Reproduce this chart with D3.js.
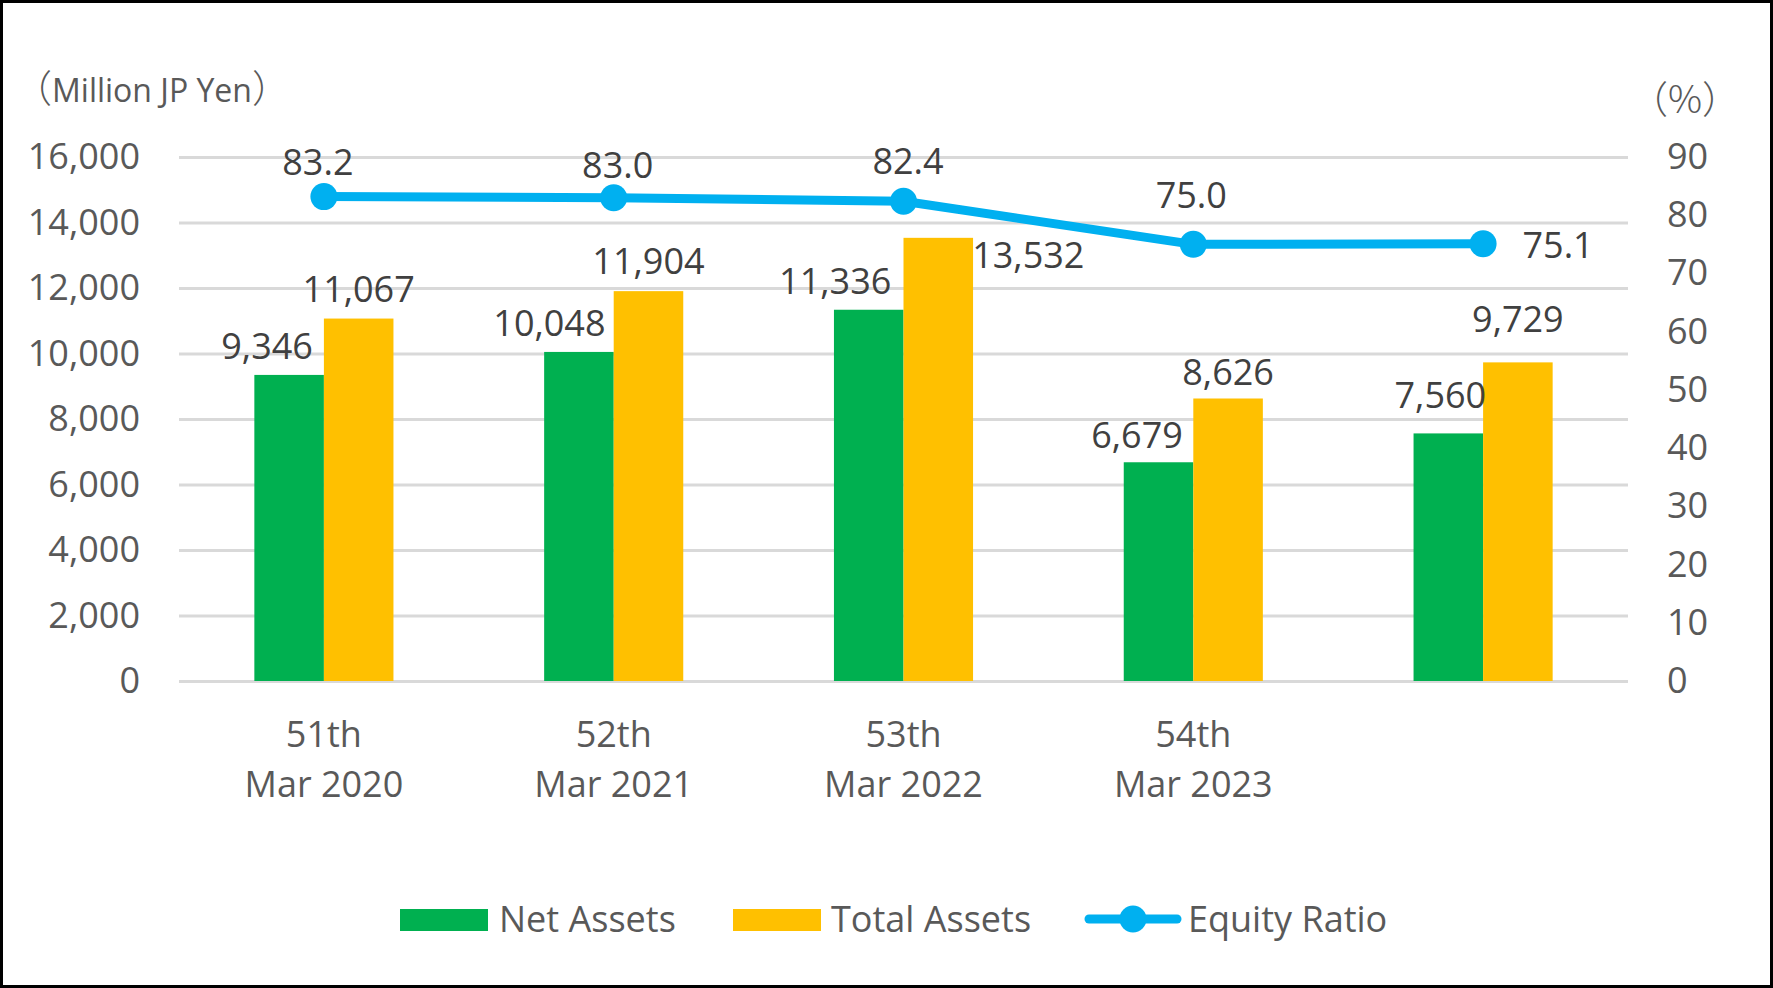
<!DOCTYPE html>
<html>
<head>
<meta charset="utf-8">
<script src="https://cdn.jsdelivr.net/npm/d3@7"></script>
<style>
  html, body { margin: 0; padding: 0; background: #fff; }
  svg { display: block; }
</style>
</head>
<body>
<svg id="chart" width="1773" height="988" font-family="Open Sans, Noto Sans CJK JP, sans-serif"></svg>
<script>
// ---------- data ----------
const periods = ["51th", "52th", "53th", "54th", ""];
const dates = ["Mar 2020", "Mar 2021", "Mar 2022", "Mar 2023", ""];
const netAssets = [9346, 10048, 11336, 6679, 7560];
const totalAssets = [11067, 11904, 13532, 8626, 9729];
const equityRatio = [83.2, 83.0, 82.4, 75.0, 75.1];
const leftTicks = [0, 2000, 4000, 6000, 8000, 10000, 12000, 14000, 16000];
const rightTicks = [0, 10, 20, 30, 40, 50, 60, 70, 80, 90];
const seriesNames = ["Net Assets", "Total Assets", "Equity Ratio"];

// ---------- label nudges (layout only) ----------
const naNudge = [[-22, 1], [-29.5, 1], [-33.5, 1], [-21.5, 3], [-8, -8]];
const taNudge = [[0, 0], [0, 0], [90, 47], [0, 3.5], [0, -13]];
const erNudge = [[-6, 0], [4, 2], [4.5, -5], [-2, -14], [75, 36]];

// ---------- layout ----------
const W = 1773, H = 988;
const plotL = 179, plotR = 1628, plotT = 157, plotB = 681;
const colors = { na: "#00B050", ta: "#FFC000", er: "#00B0F0" };
const grid = "#D9D9D9", axisText = "#595959", labelText = "#404040";
const fs = 36;
const latin = "Open Sans", cjk = "Noto Sans CJK JP";

const svg = d3.select("#chart");

svg.append("rect").attr("x", 0).attr("y", 0).attr("width", W).attr("height", H).attr("fill", "#fff");

const idx = d3.range(periods.length);
const x0 = d3.scaleBand().domain(idx).range([plotL, plotR]).paddingInner(0).paddingOuter(0);
const bw = x0.bandwidth() * 0.24;
const x1 = d3.scaleBand().domain(["na", "ta"])
  .range([x0.bandwidth() / 2 - bw, x0.bandwidth() / 2 + bw]);
const yL = d3.scaleLinear().domain([0, 16000]).range([plotB, plotT]);
const yR = d3.scaleLinear().domain([0, 90]).range([plotB, plotT]);

// left axis with gridlines
const gL = svg.append("g").attr("transform", `translate(${plotL},0)`)
  .call(d3.axisLeft(yL).tickValues(leftTicks).tickFormat(d3.format(","))
    .tickSizeInner(-(plotR - plotL)).tickSizeOuter(0).tickPadding(39));
gL.select(".domain").remove();
gL.selectAll(".tick line").attr("stroke", grid).attr("stroke-width", 3);
gL.selectAll(".tick text").attr("fill", axisText).attr("font-size", fs)
  .attr("font-family", latin);

// right axis
const gR = svg.append("g").attr("transform", `translate(${plotR},0)`)
  .call(d3.axisRight(yR).tickValues(rightTicks).tickSize(0).tickPadding(39));
gR.select(".domain").remove();
gR.selectAll(".tick text").attr("fill", axisText).attr("font-size", fs)
  .attr("font-family", latin);

// category axis
const gX = svg.append("g").attr("transform", `translate(0,${plotB})`)
  .call(d3.axisBottom(x0).tickSize(0).tickFormat(""));
gX.select(".domain").remove();
gX.selectAll(".tick text").remove();
gX.selectAll(".tick").each(function (d) {
  const t = d3.select(this).append("text")
    .attr("text-anchor", "middle").attr("fill", axisText).attr("font-size", fs)
    .attr("font-family", latin);
  t.append("tspan").attr("x", 0).attr("y", 66).text(periods[d]);
  t.append("tspan").attr("x", 0).attr("y", 116).text(dates[d]);
});

// bars
const groups = svg.append("g").selectAll("g").data(idx).join("g")
  .attr("transform", d => `translate(${x0(d)},0)`);
groups.append("rect")
  .attr("x", x1("na")).attr("width", x1.bandwidth())
  .attr("y", d => yL(netAssets[d])).attr("height", d => yL(0) - yL(netAssets[d]))
  .attr("fill", colors.na);
groups.append("rect")
  .attr("x", x1("ta")).attr("width", x1.bandwidth())
  .attr("y", d => yL(totalAssets[d])).attr("height", d => yL(0) - yL(totalAssets[d]))
  .attr("fill", colors.ta);

// bar labels
const fmt = d3.format(",");
const cx = d => x0(d) + x0.bandwidth() / 2;
svg.append("g").selectAll("text").data(idx).join("text")
  .attr("x", d => x0(d) + x1("na") + x1.bandwidth() / 2 + naNudge[d][0])
  .attr("y", d => yL(netAssets[d]) - 17 + naNudge[d][1])
  .attr("text-anchor", "middle").attr("font-size", fs).attr("fill", labelText)
  .attr("font-family", latin)
  .text(d => fmt(netAssets[d]));
svg.append("g").selectAll("text").data(idx).join("text")
  .attr("x", d => x0(d) + x1("ta") + x1.bandwidth() / 2 + taNudge[d][0])
  .attr("y", d => yL(totalAssets[d]) - 17 + taNudge[d][1])
  .attr("text-anchor", "middle").attr("font-size", fs).attr("fill", labelText)
  .attr("font-family", latin)
  .text(d => fmt(totalAssets[d]));

// line
const line = d3.line().x(d => cx(d)).y(d => yR(equityRatio[d]));
svg.append("path").datum(idx).attr("d", line)
  .attr("fill", "none").attr("stroke", colors.er).attr("stroke-width", 9)
  .attr("stroke-linejoin", "round");
svg.append("g").selectAll("circle").data(idx).join("circle")
  .attr("cx", cx).attr("cy", d => yR(equityRatio[d])).attr("r", 13.5)
  .attr("fill", colors.er);
svg.append("g").selectAll("text").data(idx).join("text")
  .attr("x", d => cx(d) + erNudge[d][0])
  .attr("y", d => yR(equityRatio[d]) - 22 + erNudge[d][1])
  .attr("text-anchor", "middle").attr("font-size", fs).attr("fill", labelText)
  .attr("font-family", latin)
  .text(d => d3.format(".1f")(equityRatio[d]));

// axis titles
const t1 = svg.append("text").attr("x", 14).attr("y", 102).attr("font-size", 32)
  .attr("fill", axisText);
t1.append("tspan").attr("font-family", cjk).attr("font-weight", 300).attr("font-size", 38).text("（");
t1.append("tspan").attr("font-family", latin).text("Million JP Yen");
t1.append("tspan").attr("font-family", cjk).attr("font-weight", 300).attr("font-size", 38).text("）");

svg.append("text").attr("x", 1685).attr("y", 113).attr("font-size", 38)
  .attr("text-anchor", "middle").attr("fill", axisText)
  .attr("font-family", cjk).attr("font-weight", 300).text("（%）");

// legend
const lg = svg.append("g").attr("font-family", latin);
lg.append("rect").attr("x", 400).attr("y", 909).attr("width", 88).attr("height", 22).attr("fill", colors.na);
lg.append("text").attr("x", 499).attr("y", 932).attr("font-size", fs).attr("fill", axisText).text(seriesNames[0]);
lg.append("rect").attr("x", 733).attr("y", 909).attr("width", 88).attr("height", 22).attr("fill", colors.ta);
lg.append("text").attr("x", 831).attr("y", 932).attr("font-size", fs).attr("fill", axisText).text(seriesNames[1]);
lg.append("line").attr("x1", 1089).attr("x2", 1177).attr("y1", 919).attr("y2", 919)
  .attr("stroke", colors.er).attr("stroke-width", 9).attr("stroke-linecap", "round");
lg.append("circle").attr("cx", 1133).attr("cy", 919).attr("r", 13.5).attr("fill", colors.er);
lg.append("text").attr("x", 1188).attr("y", 932).attr("font-size", fs).attr("fill", axisText).text(seriesNames[2]);

// frame
svg.append("rect").attr("x", 1.5).attr("y", 1.5).attr("width", W - 3).attr("height", H - 3)
  .attr("fill", "none").attr("stroke", "#000").attr("stroke-width", 3);
</script>
</body>
</html>
